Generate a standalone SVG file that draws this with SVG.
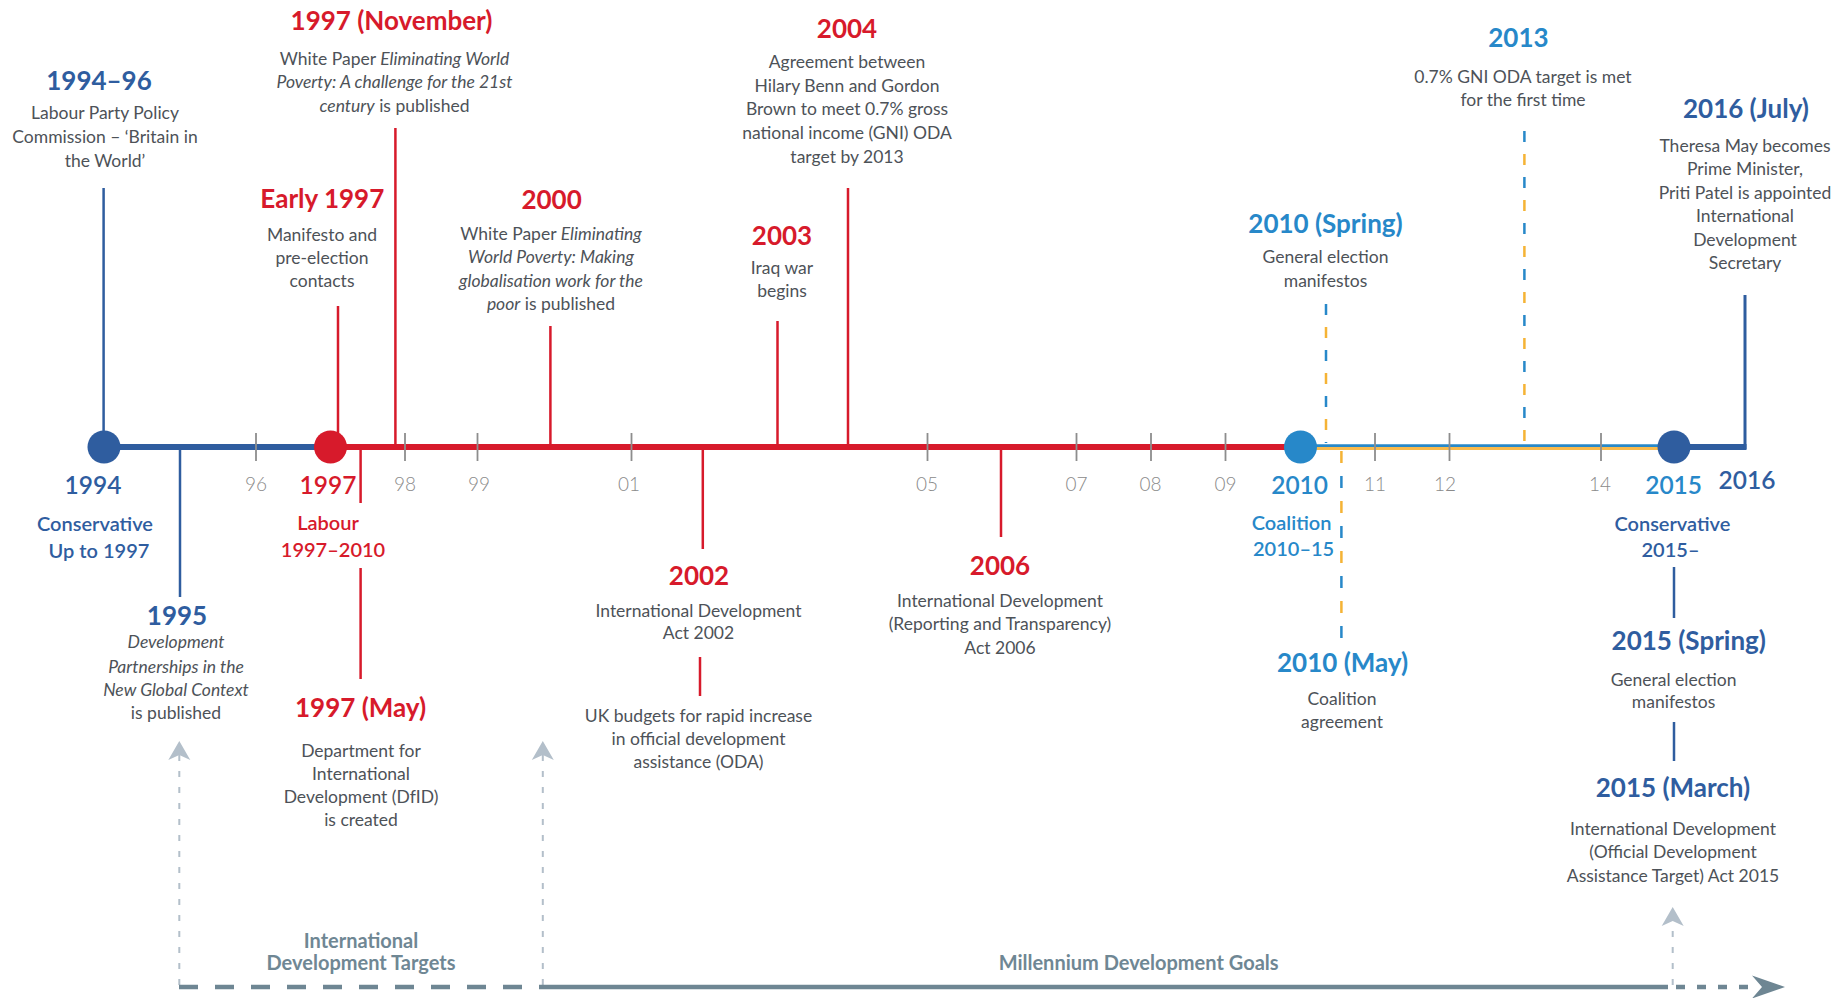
<svg xmlns="http://www.w3.org/2000/svg" width="1844" height="998" viewBox="0 0 1844 998">
<style>
text{font-family:Lato,"Open Sans","Liberation Sans",sans-serif;text-anchor:middle}
.h{font-size:26px;font-weight:700}
.b{font-size:17.5px;fill:#4d5258}
.i{font-style:italic}
.red{fill:#d71a2b}
.dblue{fill:#2f5d9f}
.lblue{fill:#2788c9}
.yr{font-size:24.5px;font-weight:600}
.pt{font-size:20px;font-weight:600}
.tk{font-size:19px;font-weight:300;fill:#8a8a8a}
.gl{font-size:20px;font-weight:700;fill:#6f8794}
.cr{stroke:#d71a2b;stroke-width:2.5;fill:none}
.cb{stroke:#2f5d9f;stroke-width:2.5;fill:none}
.tick{stroke:#8d8d8d;stroke-width:1.8}
.dl{stroke:#b3bfca;stroke-width:2;stroke-dasharray:6 10;fill:none}
.base{stroke:#6e8693;stroke-width:4.5;fill:none}
.db{stroke:#2788c9;stroke-width:2.5;fill:none}
.do{stroke:#f5b335;stroke-width:2.5;fill:none}
</style>
<defs>
<marker id="arrUp" markerUnits="userSpaceOnUse" markerWidth="21" markerHeight="24" viewBox="-6 -12 21 24" refX="0" refY="0" orient="auto">
<path d="M14,0 L-5,-11 L0,0 L-5,11 Z" fill="#b3bfca"/>
</marker>
</defs>
<rect width="1844" height="998" fill="#ffffff"/>

<g id="connectors">
<line class="cb" x1="103.6" y1="188" x2="103.6" y2="447"/>
<line class="cr" x1="395.4" y1="128" x2="395.4" y2="447"/>
<line class="cr" x1="338" y1="306" x2="338" y2="447"/>
<line class="cr" x1="550.4" y1="326" x2="550.4" y2="447"/>
<line class="cr" x1="777.5" y1="321" x2="777.5" y2="447"/>
<line class="cr" x1="848" y1="188" x2="848" y2="447"/>
<line class="db" x1="1326" y1="304" x2="1326" y2="443" stroke-dasharray="11 35"/>
<line class="do" x1="1326" y1="304" x2="1326" y2="443" stroke-dasharray="11 35" stroke-dashoffset="23"/>
<line class="db" x1="1524.4" y1="131" x2="1524.4" y2="443" stroke-dasharray="11 35"/>
<line class="do" x1="1524.4" y1="131" x2="1524.4" y2="443" stroke-dasharray="11 35" stroke-dashoffset="23"/>
<line class="cb" x1="180" y1="447" x2="180" y2="597"/>
<line class="cr" x1="360.6" y1="447" x2="360.6" y2="503"/>
<line class="cr" x1="360.6" y1="568" x2="360.6" y2="679"/>
<line class="cr" x1="702.8" y1="447" x2="702.8" y2="549"/>
<line class="cr" x1="700" y1="657" x2="700" y2="696"/>
<line class="cr" x1="1001" y1="447" x2="1001" y2="537"/>
<line class="do" x1="1341.4" y1="451" x2="1341.4" y2="638" stroke-dasharray="12 38"/>
<line class="db" x1="1341.4" y1="451" x2="1341.4" y2="638" stroke-dasharray="12 38" stroke-dashoffset="25"/>
<line class="cb" x1="1674" y1="567" x2="1674" y2="618"/>
<line class="cb" x1="1674" y1="722" x2="1674" y2="761"/>
<line class="dl" x1="179.3" y1="985" x2="179.3" y2="755" marker-end="url(#arrUp)"/>
<line class="dl" x1="542.8" y1="985" x2="542.8" y2="755" marker-end="url(#arrUp)"/>
<line class="dl" x1="1672.7" y1="985" x2="1672.7" y2="921" marker-end="url(#arrUp)"/>
<line class="base" x1="179" y1="987" x2="543" y2="987" stroke-dasharray="19 17"/>
<line class="base" x1="543" y1="987" x2="1668" y2="987"/>
<line class="base" x1="1676" y1="987" x2="1754" y2="987" stroke-dasharray="9 12"/>
<path d="M1785,987 L1752,975.5 L1762,987 L1752,998.5 Z" fill="#6e8693"/>
</g>

<g id="timeline">
<line x1="104" y1="447" x2="330.5" y2="447" stroke="#2f5d9f" stroke-width="6"/>
<line x1="330.5" y1="447" x2="1300.5" y2="447" stroke="#d71a2b" stroke-width="6"/>
<line x1="1300.5" y1="445.6" x2="1674" y2="445.6" stroke="#2788c9" stroke-width="2.8"/>
<line x1="1300.5" y1="448.6" x2="1674" y2="448.6" stroke="#f7b94c" stroke-width="3"/>
<line x1="1674" y1="447" x2="1746.5" y2="447" stroke="#2f5d9f" stroke-width="6"/>
<line x1="1745" y1="449" x2="1745" y2="295" stroke="#2f5d9f" stroke-width="3"/>
<g>
<line class="tick" x1="256" y1="433" x2="256" y2="461"/>
<line class="tick" x1="405" y1="433" x2="405" y2="461"/>
<line class="tick" x1="477.5" y1="433" x2="477.5" y2="461"/>
<line class="tick" x1="631.5" y1="433" x2="631.5" y2="461"/>
<line class="tick" x1="927.5" y1="433" x2="927.5" y2="461"/>
<line class="tick" x1="1076.5" y1="433" x2="1076.5" y2="461"/>
<line class="tick" x1="1151" y1="433" x2="1151" y2="461"/>
<line class="tick" x1="1225.5" y1="433" x2="1225.5" y2="461"/>
<line class="tick" x1="1375" y1="433" x2="1375" y2="461"/>
<line class="tick" x1="1449.5" y1="433" x2="1449.5" y2="461"/>
<line class="tick" x1="1601" y1="433" x2="1601" y2="461"/>
</g>
<circle cx="104" cy="447" r="16.5" fill="#2f5d9f"/>
<circle cx="330.5" cy="447" r="16.5" fill="#d71a2b"/>
<circle cx="1300.5" cy="447" r="16.5" fill="#2788c9"/>
<circle cx="1674" cy="447" r="16.5" fill="#2f5d9f"/>
<g class="tk">
<text class="tk" x="256" y="491">96</text>
<text class="tk" x="405" y="491">98</text>
<text class="tk" x="479" y="491">99</text>
<text class="tk" x="629" y="491">01</text>
<text class="tk" x="927" y="491">05</text>
<text class="tk" x="1076.5" y="491">07</text>
<text class="tk" x="1150.5" y="491">08</text>
<text class="tk" x="1225.5" y="491">09</text>
<text class="tk" x="1375" y="491">11</text>
<text class="tk" x="1445" y="491">12</text>
<text class="tk" x="1600" y="491">14</text>
</g>
</g>

<g id="era-1994">
<text class="yr dblue" x="93" y="494">1994</text>
<text class="pt dblue" x="95" y="531">Conservative</text>
<text class="pt dblue" x="99" y="558">Up to 1997</text>
</g>
<g id="era-1997">
<text class="yr red" x="328" y="494">1997</text>
<text class="pt red" x="328" y="530">Labour</text>
<text class="pt red" x="333" y="556.5">1997–2010</text>
</g>
<g id="era-2010">
<text class="yr lblue" x="1299.6" y="494">2010</text>
<text class="pt lblue" x="1291.6" y="530">Coalition</text>
<text class="pt lblue" x="1293.6" y="556">2010–15</text>
</g>
<g id="era-2015">
<text class="yr lblue" x="1673.6" y="494">2015</text>
<text class="pt dblue" x="1672.4" y="531">Conservative</text>
<text class="pt dblue" x="1670.5" y="556.5">2015–</text>
</g>
<g id="era-2016">
<text class="yr dblue" x="1747" y="489">2016</text>
</g>

<g id="ev-1994-96">
<text class="h dblue" x="99" y="90">1994–96</text>
<text class="b" x="105" y="119.3">Labour Party Policy</text>
<text class="b" x="105" y="143.3">Commission – ‘Britain in</text>
<text class="b" x="105" y="166.5">the World’</text>
</g>
<g id="ev-1997-nov">
<text class="h red" x="391.5" y="29.5">1997 (November)</text>
<text class="b" x="394.5" y="65">White Paper <tspan class="i">Eliminating World</tspan></text>
<text class="b i" x="394.5" y="88.3">Poverty: A challenge for the 21st</text>
<text class="b" x="394.5" y="111.7"><tspan class="i">century</tspan> is published</text>
</g>
<g id="ev-early-1997">
<text class="h red" x="322.3" y="208.3">Early 1997</text>
<text class="b" x="322" y="240.7">Manifesto and</text>
<text class="b" x="322" y="263.7">pre-election</text>
<text class="b" x="322" y="287">contacts</text>
</g>
<g id="ev-2000">
<text class="h red" x="551.6" y="209.3">2000</text>
<text class="b" x="551" y="240">White Paper <tspan class="i">Eliminating</tspan></text>
<text class="b i" x="551" y="263.3">World Poverty: Making</text>
<text class="b i" x="551" y="286.7">globalisation work for the</text>
<text class="b" x="551" y="310"><tspan class="i">poor</tspan> is published</text>
</g>
<g id="ev-2003">
<text class="h red" x="782" y="245">2003</text>
<text class="b" x="782" y="274">Iraq war</text>
<text class="b" x="782" y="297.3">begins</text>
</g>
<g id="ev-2004">
<text class="h red" x="847" y="38.3">2004</text>
<text class="b" x="847" y="68.3">Agreement between</text>
<text class="b" x="847" y="91.7">Hilary Benn and Gordon</text>
<text class="b" x="847" y="115">Brown to meet 0.7% gross</text>
<text class="b" x="847" y="139.3">national income (GNI) ODA</text>
<text class="b" x="847" y="162.7">target by 2013</text>
</g>
<g id="ev-2010-spring">
<text class="h lblue" x="1325.5" y="233.3">2010 (Spring)</text>
<text class="b" x="1325.5" y="263.3">General election</text>
<text class="b" x="1325.5" y="287.3">manifestos</text>
</g>
<g id="ev-2013">
<text class="h lblue" x="1518.4" y="46.7">2013</text>
<text class="b" x="1523" y="82.7">0.7% GNI ODA target is met</text>
<text class="b" x="1523" y="106">for the first time</text>
</g>
<g id="ev-2016-july">
<text class="h dblue" x="1746" y="118.3">2016 (July)</text>
<text class="b" x="1745" y="151.7">Theresa May becomes</text>
<text class="b" x="1745" y="175">Prime Minister,</text>
<text class="b" x="1745" y="199">Priti Patel is appointed</text>
<text class="b" x="1745" y="222.3">International</text>
<text class="b" x="1745" y="245.7">Development</text>
<text class="b" x="1745" y="269.3">Secretary</text>
</g>
<g id="ev-1995">
<text class="h dblue" x="177" y="625">1995</text>
<text class="b i" x="176" y="648.3">Development</text>
<text class="b i" x="176" y="672.7">Partnerships in the</text>
<text class="b i" x="176" y="696">New Global Context</text>
<text class="b" x="176" y="719.3">is published</text>
</g>
<g id="ev-1997-may">
<text class="h red" x="360.6" y="716.7">1997 (May)</text>
<text class="b" x="361" y="756.7">Department for</text>
<text class="b" x="361" y="780">International</text>
<text class="b" x="361" y="803.3">Development (DfID)</text>
<text class="b" x="361" y="826">is created</text>
</g>
<g id="ev-2002">
<text class="h red" x="699" y="585">2002</text>
<text class="b" x="698.5" y="616.7">International Development</text>
<text class="b" x="698.5" y="639.3">Act 2002</text>
</g>
<g id="ev-2002-oda">
<text class="b" x="698.5" y="721.7">UK budgets for rapid increase</text>
<text class="b" x="698.5" y="745">in official development</text>
<text class="b" x="698.5" y="768.3">assistance (ODA)</text>
</g>
<g id="ev-2006">
<text class="h red" x="1000" y="575">2006</text>
<text class="b" x="1000" y="607.3">International Development</text>
<text class="b" x="1000" y="630">(Reporting and Transparency)</text>
<text class="b" x="1000" y="654">Act 2006</text>
</g>
<g id="ev-2010-may">
<text class="h lblue" x="1342.6" y="671.7">2010 (May)</text>
<text class="b" x="1342" y="705">Coalition</text>
<text class="b" x="1342" y="727.5">agreement</text>
</g>
<g id="ev-2015-spring">
<text class="h dblue" x="1688.8" y="650">2015 (Spring)</text>
<text class="b" x="1673.6" y="686">General election</text>
<text class="b" x="1673.6" y="708.3">manifestos</text>
</g>
<g id="ev-2015-march">
<text class="h dblue" x="1673" y="796.7">2015 (March)</text>
<text class="b" x="1673" y="835">International Development</text>
<text class="b" x="1673" y="858.3">(Official Development</text>
<text class="b" x="1673" y="882.3">Assistance Target) Act 2015</text>
</g>
<g id="idt">
<text class="gl" x="361" y="948.3">International</text>
<text class="gl" x="361" y="970">Development Targets</text>
</g>
<g id="mdg">
<text class="gl" x="1138.6" y="970">Millennium Development Goals</text>
</g>
</svg>
